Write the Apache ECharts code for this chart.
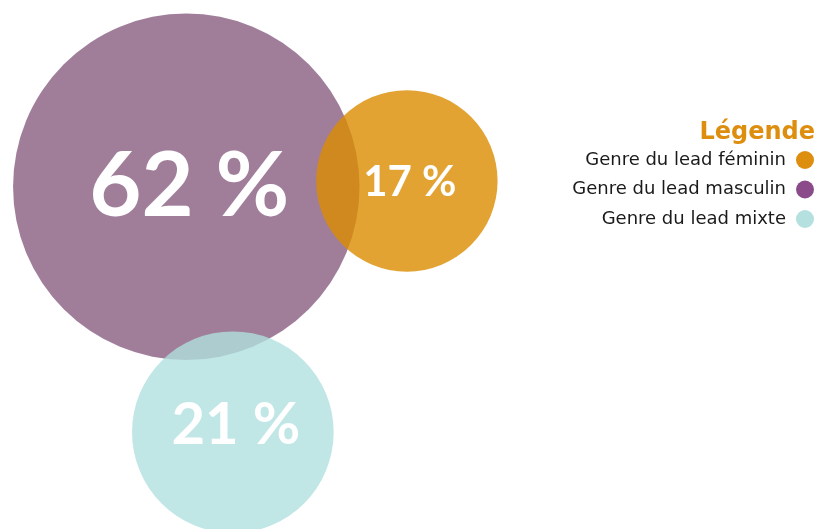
<!DOCTYPE html>
<html>
<head>
<meta charset="utf-8">
<script src="https://cdn.jsdelivr.net/npm/echarts@6/dist/echarts.min.js"></script>
<style>
  html, body { margin: 0; padding: 0; background: #fff; }
  #chart { width: 817px; height: 529px; }
</style>
</head>
<body>
<div id="chart"></div>
<script>
// données
const categories = ['Genre du lead féminin', 'Genre du lead masculin', 'Genre du lead mixte'];
const percents = [17, 62, 21];
// placement des bulles (en % de la zone)
const bubbleX = [49.8, 22.8, 28.5];
const bubbleY = [34.2, 35.3, 81.7];

const circleColors = ['rgba(219,140,0,0.8)', 'rgba(136,94,129,0.8)', 'rgba(176,224,222,0.8)'];
const legendColors = ['#DE8E0F', '#8B4A89', '#B5E0E0'];
const labelSizes = [42, 90, 58];
const labelOffsets = [[3, 2], [3, 0], [3, -7]];
// ordre de dessin : masculin dessous
const drawOrder = [1, 0, 2];

let chart = echarts.init(document.getElementById('chart'));

let series = drawOrder.map(function (i) {
    return {
        name: categories[i],
        type: 'scatter',
        clip: false,
        symbol: 'circle',
        symbolSize: function (val) {
            return Math.sqrt(val[2]) * 44;
        },
        itemStyle: { color: circleColors[i], opacity: 1 },
        label: {
            show: true,
            position: 'inside',
            offset: labelOffsets[i],
            formatter: function (p) { return p.value[2] + ' %'; },
            color: '#fff',
            fontFamily: 'Lato',
            fontWeight: 'bold',
            fontSize: labelSizes[i]
        },
        emphasis: { disabled: true },
        data: [[bubbleX[i], bubbleY[i], percents[i]]]
    };
});

let option = {
    animation: false,
    title: {
        text: 'Légende',
        right: 0,
        top: 119,
        padding: 2,
        textStyle: {
            color: '#DE8E0F',
            fontFamily: 'DejaVu Sans',
            fontWeight: 'bold',
            fontSize: 24
        }
    },
    legend: {
        orient: 'vertical',
        align: 'right',
        right: 3,
        top: 151,
        padding: 0,
        icon: 'circle',
        itemWidth: 18,
        itemHeight: 18,
        itemGap: 11.5,
        selectedMode: false,
        textStyle: {
            color: '#1a1a1a',
            fontFamily: 'DejaVu Sans',
            fontSize: 18,
            padding: [0, 5, 0, 0]
        },
        data: categories.map(function (c, i) {
            return { name: c, itemStyle: { color: legendColors[i], opacity: 1 } };
        })
    },
    grid: { left: 0, right: 0, top: 0, bottom: 0 },
    xAxis: { type: 'value', min: 0, max: 100, show: false },
    yAxis: { type: 'value', min: 0, max: 100, inverse: true, show: false },
    series: series
};
chart.setOption(option);
</script>
</body>
</html>
